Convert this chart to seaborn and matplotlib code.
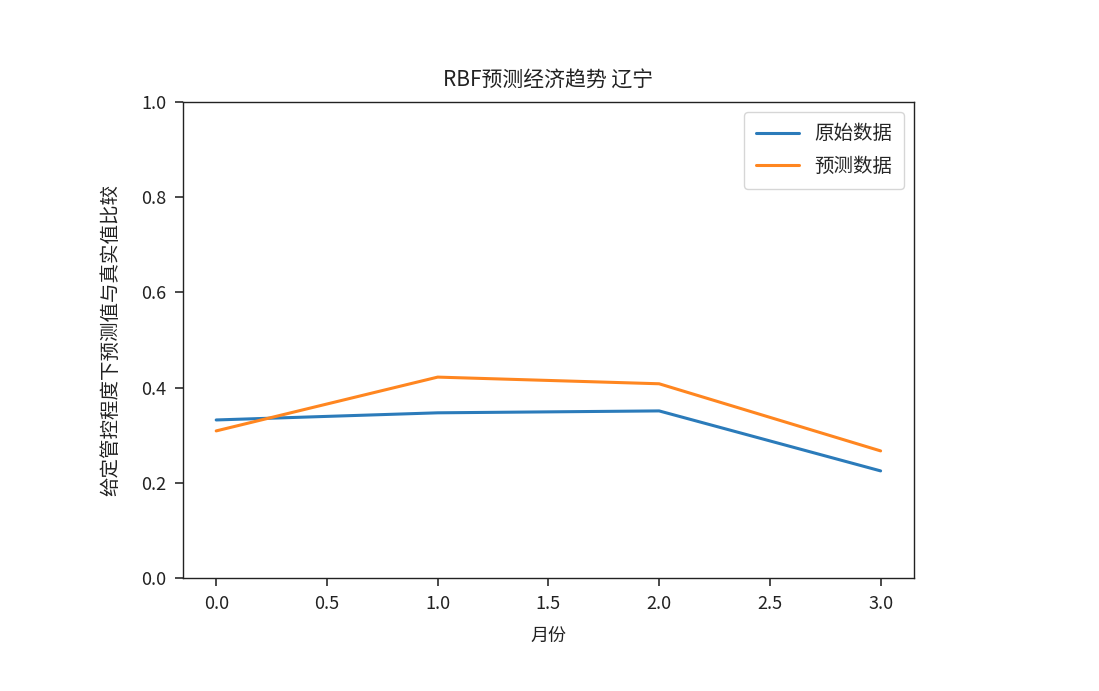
import matplotlib
matplotlib.use("Agg")
import matplotlib.pyplot as plt
import seaborn as sns
import pandas as pd

months = [0, 1, 2, 3]
original = [0.332, 0.347, 0.351, 0.225]
predicted = [0.309, 0.422, 0.408, 0.267]
series_names = ["原始数据", "预测数据"]

sns.set_theme(style="ticks")
plt.rcParams['font.family'] = ['Noto Sans CJK SC', 'DejaVu Sans']
plt.rcParams['axes.unicode_minus'] = False

df = pd.DataFrame({
    "月份": months * 2,
    "value": original + predicted,
    "series": [series_names[0]] * 4 + [series_names[1]] * 4,
})

fig = plt.figure(figsize=(10.99, 6.91), dpi=100)
ax = fig.add_axes([0.1665, 0.1635, 0.665, 0.689])
sns.lineplot(data=df, x="月份", y="value", hue="series",
             palette=["#2b7bba", "#ff8620"], linewidth=2.2, ax=ax)
ax.set_ylim(0, 1.0)
ax.set_xlim(-0.15, 3.15)
ax.set_xticks([0, 0.5, 1.0, 1.5, 2.0, 2.5, 3.0])
ax.set_xticklabels(["0.0", "0.5", "1.0", "1.5", "2.0", "2.5", "3.0"])
ax.set_yticks([0, 0.2, 0.4, 0.6, 0.8, 1.0])
ax.set_yticklabels(["0.0", "0.2", "0.4", "0.6", "0.8", "1.0"])
ax.tick_params(labelsize=13, length=6, color="#333333", labelcolor="#222222", pad=6)
for s in ax.spines.values():
    s.set_color("#222222")
    s.set_linewidth(1.0)
ax.set_xlabel("月份", fontsize=13, color="#222222", labelpad=10)
ax.set_ylabel("给定管控程度下预测值与真实值比较", fontsize=14, color="#222222", labelpad=14)
ax.set_title("RBF预测经济趋势 辽宁", fontsize=15, color="#222222", pad=12)
leg = ax.legend(title=None, loc="upper right", fontsize=14, frameon=True,
                borderpad=0.6, labelspacing=0.6, handlelength=2.2)
leg.get_frame().set_edgecolor("#cccccc")
fig.savefig("out.png", dpi=100)
